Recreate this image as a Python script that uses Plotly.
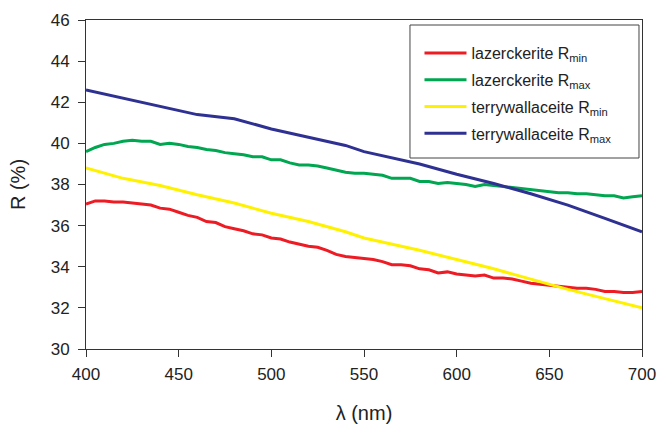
import plotly.graph_objects as go

wl = list(range(400, 701, 5))

laz_rmin = [37.05, 37.2, 37.2, 37.15, 37.15, 37.1, 37.05, 37.0, 36.85, 36.8,
            36.65, 36.5, 36.4, 36.2, 36.15, 35.95, 35.85, 35.75, 35.6, 35.55,
            35.4, 35.35, 35.2, 35.1, 35.0, 34.95, 34.8, 34.6, 34.5, 34.45,
            34.4, 34.35, 34.25, 34.1, 34.1, 34.05, 33.9, 33.85, 33.7, 33.75,
            33.65, 33.6, 33.55, 33.6, 33.45, 33.45, 33.4, 33.3, 33.2, 33.15,
            33.1, 33.05, 33.0, 32.95, 32.95, 32.9, 32.8, 32.8, 32.75, 32.75, 32.8]

laz_rmax = [39.6, 39.8, 39.95, 40.0, 40.1, 40.15, 40.1, 40.1, 39.95, 40.0,
            39.95, 39.85, 39.8, 39.7, 39.65, 39.55, 39.5, 39.45, 39.35, 39.35,
            39.2, 39.2, 39.05, 38.95, 38.95, 38.9, 38.8, 38.7, 38.6, 38.55,
            38.55, 38.5, 38.45, 38.3, 38.3, 38.3, 38.15, 38.15, 38.05, 38.1,
            38.05, 38.0, 37.9, 38.0, 37.95, 37.9, 37.85, 37.8, 37.75, 37.7,
            37.65, 37.6, 37.6, 37.55, 37.55, 37.5, 37.45, 37.45, 37.35, 37.4, 37.45]

tw_wl = [400, 420, 440, 460, 480, 500, 520, 540, 550, 560, 580, 600, 620, 640, 660, 680, 700]
tw_rmin = [38.8, 38.3, 37.95, 37.5, 37.1, 36.6, 36.2, 35.7, 35.4, 35.2, 34.8, 34.35, 33.9, 33.4, 32.9, 32.45, 32.0]
tw_rmax = [42.6, 42.2, 41.8, 41.4, 41.2, 40.7, 40.3, 39.9, 39.6, 39.4, 39.0, 38.5, 38.05, 37.55, 37.0, 36.35, 35.7]

names = ["lazerckerite R<sub>min</sub>", "lazerckerite R<sub>max</sub>",
         "terrywallaceite R<sub>min</sub>", "terrywallaceite R<sub>max</sub>"]
colors = ["#ED1C24", "#00A650", "#FFF200", "#2E3192"]

fig = go.Figure()
series = [(wl, laz_rmin), (wl, laz_rmax), (tw_wl, tw_rmin), (tw_wl, tw_rmax)]
for i, ((x, y), n, c) in enumerate(zip(series, names, colors)):
    fig.add_trace(go.Scatter(x=x, y=y, mode="lines", name=n, legendgroup=f"g{i}",
                             line=dict(color=c, width=3)))

axis_common = dict(showgrid=False, zeroline=False, showline=True, linecolor="#333333",
                   linewidth=1, mirror=True, ticks="outside", ticklen=7, automargin=False,
                   tickcolor="#333333", tickfont=dict(size=17, color="#222222"))

fig.update_xaxes(range=[400, 700], dtick=50, ticklabelstandoff=3,
                 title=dict(text="λ (nm)", font=dict(size=20, color="#222222"), standoff=27),
                 **axis_common)
fig.update_yaxes(range=[30, 46], dtick=2, ticklabelstandoff=5,
                 title=dict(text="R (%)", font=dict(size=20, color="#222222"), standoff=19),
                 **axis_common)

# legend frame
fig.add_shape(type="rect", xref="paper", yref="paper",
              x0=0.5827, x1=0.9946, y0=0.5805, y1=0.9848,
              line=dict(color="#444444", width=1), fillcolor="white", layer="above")

fig.update_layout(
    width=659, height=424,
    margin=dict(l=86, r=17, t=20, b=75),
    paper_bgcolor="white", plot_bgcolor="white",
    font=dict(family="Liberation Sans, Arial, sans-serif", color="#222222"),
    legend=dict(x=0.5998, xanchor="left", y=0.9514, yanchor="top",
                borderwidth=0, bgcolor="rgba(0,0,0,0)", itemwidth=42,
                font=dict(size=16), tracegroupgap=3),
)

fig.write_html("out.html")
